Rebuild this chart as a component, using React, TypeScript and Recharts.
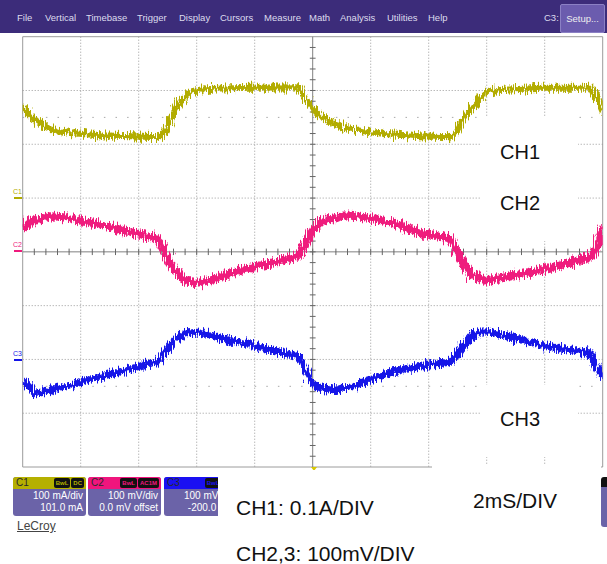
import React from 'react';
import { LineChart, Line, XAxis, YAxis, CartesianGrid, ReferenceLine } from 'recharts';

// time in ms (2 ms/div, 10 div), level in divisions from screen centre (8 div)
const ch1Time = [0, 0.42, 0.94, 1.63, 2.67, 3.7, 4.67, 4.84, 5.08, 5.42, 5.77, 6.01, 6.46, 7.84, 9.49, 9.7, 9.98, 10.32, 10.77, 11.46, 12.49, 13.71, 14.73, 14.91, 15.15, 15.42, 15.77, 16.01, 16.46, 17.84, 19.6, 19.77, 20];
const ch1Div = [2.67, 2.45, 2.28, 2.21, 2.17, 2.15, 2.13, 2.19, 2.45, 2.78, 2.95, 3.01, 3.03, 3.05, 3.06, 2.89, 2.67, 2.5, 2.37, 2.26, 2.19, 2.15, 2.13, 2.19, 2.43, 2.64, 2.86, 2.97, 3.01, 3.05, 3.05, 2.89, 2.6];

const ch2Time = [0, 0.32, 0.94, 1.46, 2.67, 3.7, 4.56, 4.73, 5.08, 5.42, 5.94, 6.46, 7.49, 8.53, 9.56, 9.73, 10.01, 10.32, 11.18, 11.98, 13.01, 13.7, 14.73, 15.08, 15.42, 15.94, 16.46, 17.49, 18.53, 19.56, 19.73, 19.91, 20];
const ch2Div = [0.42, 0.57, 0.66, 0.64, 0.5, 0.37, 0.27, 0.16, -0.21, -0.47, -0.58, -0.53, -0.34, -0.21, -0.08, 0.16, 0.4, 0.57, 0.68, 0.63, 0.5, 0.35, 0.25, -0.1, -0.4, -0.53, -0.49, -0.38, -0.25, -0.1, 0.03, 0.31, 0.48];

const ch3Time = [0, 0.42, 1.29, 2.32, 3.36, 4.39, 4.63, 4.91, 5.25, 5.6, 6.11, 6.63, 7.49, 8.87, 9.56, 9.73, 10.01, 10.6, 11.29, 11.98, 13.01, 14.04, 14.73, 15.08, 15.42, 15.77, 16.11, 16.8, 17.84, 18.87, 19.56, 19.73, 20];
const ch3Div = [-2.38, -2.63, -2.53, -2.38, -2.23, -2.07, -2.05, -1.86, -1.64, -1.51, -1.49, -1.58, -1.68, -1.86, -1.95, -2.19, -2.47, -2.57, -2.51, -2.38, -2.19, -2.1, -2.05, -1.83, -1.59, -1.49, -1.49, -1.58, -1.73, -1.82, -1.88, -2.07, -2.33];

const gridTimes = [2, 4, 6, 8, 12, 14, 16, 18];
const gridLevels = [-3, -2, -1, 1, 2, 3];

const menuItems = ['File', 'Vertical', 'Timebase', 'Trigger', 'Display', 'Cursors', 'Measure', 'Math', 'Analysis', 'Utilities', 'Help'];
const menuLeft = [17, 45, 86, 137, 179, 220, 264, 309, 340, 387, 428];

const toPoints = (ts: number[], vs: number[]) => ts.map((t, i) => ({ t, v: vs[i] }));
const ch1 = toPoints(ch1Time, ch1Div);
const ch2 = toPoints(ch2Time, ch2Div);
const ch3 = toPoints(ch3Time, ch3Div);

// minor ticks on the centre cross, every 0.2 div
const hMinor = Array.from({ length: 49 }, (_, i) => +((i + 1) * 0.4).toFixed(2));
const vMinor = Array.from({ length: 39 }, (_, i) => +(-3.8 + i * 0.2).toFixed(2));

const font = 'Arial, "Liberation Sans", sans-serif';

const ChannelBox = ({ left, name, color, badges, line1, line2 }: { left: number; name: string; color: string; badges: string[]; line1: string; line2: string }) => (
	<div style={{ position: 'absolute', left, top: 477, width: 73, height: 39, background: '#6b63a8', borderRadius: 3, overflow: 'hidden', fontSize: 10, color: '#fff' }}>
		<div style={{ height: 12, background: color, position: 'relative' }}>
			<span style={{ position: 'absolute', left: 3, top: 0, lineHeight: '12px', color: '#2a2a2a' }}>{name}</span>
			<div style={{ position: 'absolute', right: 2, top: 1, display: 'flex', gap: 1 }}>
				{badges.map((b) => (
					<span key={b} style={{ background: '#111', color, fontSize: 6, lineHeight: '10px', padding: '0 2px', borderRadius: 2, fontWeight: 'bold' }}>{b}</span>
				))}
			</div>
		</div>
		<div style={{ textAlign: 'right', paddingRight: 3, lineHeight: '13px', whiteSpace: 'nowrap' }}>{line1}</div>
		<div style={{ textAlign: 'right', paddingRight: 3, lineHeight: '11px', whiteSpace: 'nowrap' }}>{line2}</div>
	</div>
);

const Marker = ({ top, label, color }: { top: number; label: string; color: string }) => (
	<>
		<div style={{ position: 'absolute', left: 13, top: top - 10, fontSize: 7, color, lineHeight: '8px' }}>{label}</div>
		<div style={{ position: 'absolute', left: 14, top: top - 1, width: 8, height: 2, background: color }} />
	</>
);

const App = () => {
	return (
		<div style={{ position: 'absolute', left: 0, top: 0, width: 607, height: 564, background: '#fff', overflow: 'hidden', fontFamily: font }}>
			<svg width={0} height={0} style={{ position: 'absolute' }}>
				<defs>
					<filter id="scopeNoise" filterUnits="userSpaceOnUse" x={0} y={0} width={607} height={564}>
						<feTurbulence type="fractalNoise" baseFrequency="0.9 0.08" numOctaves={2} seed={4} result="turb" />
						<feDisplacementMap in="SourceGraphic" in2="turb" scale={13} xChannelSelector="R" yChannelSelector="G" />
					</filter>
				</defs>
			</svg>

			{/* menu bar */}
			<div style={{ position: 'absolute', left: 0, top: 0, width: 607, height: 33, background: '#3c2c7a' }}>
				{menuItems.map((m, i) => (
					<span key={m} style={{ position: 'absolute', left: menuLeft[i], top: 12, fontSize: 9.5, color: '#dcdcee', lineHeight: '12px' }}>{m}</span>
				))}
				<span style={{ position: 'absolute', left: 544, top: 12, fontSize: 9.5, color: '#dcdcee', lineHeight: '12px' }}>C3:</span>
				<div style={{ position: 'absolute', left: 560, top: 4, width: 43, height: 27, background: '#6b5cae', border: '1px solid #8b80c4', borderRadius: 2, color: '#eee', fontSize: 9.5, lineHeight: '27px', textAlign: 'center' }}>Setup...</div>
			</div>

			<LineChart width={607} height={564} margin={{ top: 36.7, right: 4.3, bottom: 97, left: 22.7 }} style={{ position: 'absolute', left: 0, top: 0 }}>
				<XAxis type="number" dataKey="t" domain={[0, 20]} hide allowDataOverflow />
				<YAxis type="number" dataKey="v" domain={[-4, 4]} hide allowDataOverflow />
				<CartesianGrid stroke="#9a9a9a" strokeDasharray="1 2" verticalValues={gridTimes} horizontalValues={gridLevels} />
				<ReferenceLine y={2.5} stroke="#a8a8a8" strokeDasharray="1.5 10.1" />
				<ReferenceLine y={-2.5} stroke="#a8a8a8" strokeDasharray="1.5 10.1" />
				<ReferenceLine x={0} stroke="#9c9c9c" />
				<ReferenceLine x={20} stroke="#9c9c9c" />
				<ReferenceLine y={4} stroke="#9c9c9c" />
				<ReferenceLine y={-4} stroke="#9c9c9c" />
				<ReferenceLine x={10} stroke="#808080" />
				<ReferenceLine y={0} stroke="#808080" />
				{hMinor.map((t) => (
					<ReferenceLine key={'h' + t} segment={[{ x: t, y: -0.06 }, { x: t, y: 0.06 }]} stroke="#666" />
				))}
				{vMinor.map((v) => (
					<ReferenceLine key={'v' + v} segment={[{ x: 9.9, y: v }, { x: 10.1, y: v }]} stroke="#666" />
				))}
				<Line data={ch1} dataKey="v" type="linear" stroke="#b2ac00" strokeWidth={6} dot={false} isAnimationActive={false} filter="url(#scopeNoise)" />
				<Line data={ch2} dataKey="v" type="linear" stroke="#ef1a7d" strokeWidth={8} dot={false} isAnimationActive={false} filter="url(#scopeNoise)" />
				<Line data={ch3} dataKey="v" type="linear" stroke="#1414e8" strokeWidth={7} dot={false} isAnimationActive={false} filter="url(#scopeNoise)" />
			</LineChart>

			<Marker top={198} label="C1" color="#b2ac00" />
			<Marker top={251} label="C2" color="#ef1a7d" />
			<Marker top={360} label="C3" color="#1414e8" />

			{/* trigger marker */}
			<div style={{ position: 'absolute', left: 311, top: 467, width: 0, height: 0, borderLeft: '3px solid transparent', borderRight: '3px solid transparent', borderTop: '4px solid #d8c800' }} />

			{/* pasted-over annotation areas */}
			<div style={{ position: 'absolute', left: 480, top: 116, width: 98, height: 125, background: '#fff' }} />
			<div style={{ position: 'absolute', left: 480, top: 385, width: 98, height: 72, background: '#fff' }} />
			<div style={{ position: 'absolute', left: 432, top: 464, width: 169, height: 6, background: '#fff' }} />

			<ChannelBox left={13} name="C1" color="#b5b000" badges={['BwL', 'DC']} line1="100 mA/div" line2="101.0 mA" />
			<ChannelBox left={88} name="C2" color="#f0157d" badges={['BwL', 'AC1M']} line1="100 mV/div" line2="0.0 mV offset" />
			<ChannelBox left={164} name="C3" color="#1a10f2" badges={['BwL', 'DC']} line1="100 mV/div" line2="-200.0 mV" />
			<div style={{ position: 'absolute', left: 601, top: 477, width: 8, height: 40, background: '#6b63a8', borderTop: '10px solid #111', borderRadius: 3 }} />

			<div style={{ position: 'absolute', left: 218, top: 470, width: 383, height: 94, background: '#fff' }} />

			<div style={{ position: 'absolute', left: 17, top: 519, fontSize: 12, color: '#444', textDecoration: 'underline', lineHeight: '14px' }}>LeCroy</div>

			<div style={{ position: 'absolute', left: 500, top: 142, fontSize: 20, lineHeight: '20px', color: '#111' }}>CH1</div>
			<div style={{ position: 'absolute', left: 500, top: 193, fontSize: 20, lineHeight: '20px', color: '#111' }}>CH2</div>
			<div style={{ position: 'absolute', left: 500, top: 409, fontSize: 20, lineHeight: '20px', color: '#111' }}>CH3</div>
			<div style={{ position: 'absolute', left: 236, top: 497, fontSize: 21, lineHeight: '21px', color: '#111', whiteSpace: 'nowrap' }}>CH1: 0.1A/DIV</div>
			<div style={{ position: 'absolute', left: 473, top: 490, fontSize: 21, lineHeight: '21px', color: '#111', whiteSpace: 'nowrap' }}>2mS/DIV</div>
			<div style={{ position: 'absolute', left: 236, top: 543, fontSize: 21, lineHeight: '21px', color: '#111', whiteSpace: 'nowrap' }}>CH2,3: 100mV/DIV</div>
		</div>
	);
};

export default App;
